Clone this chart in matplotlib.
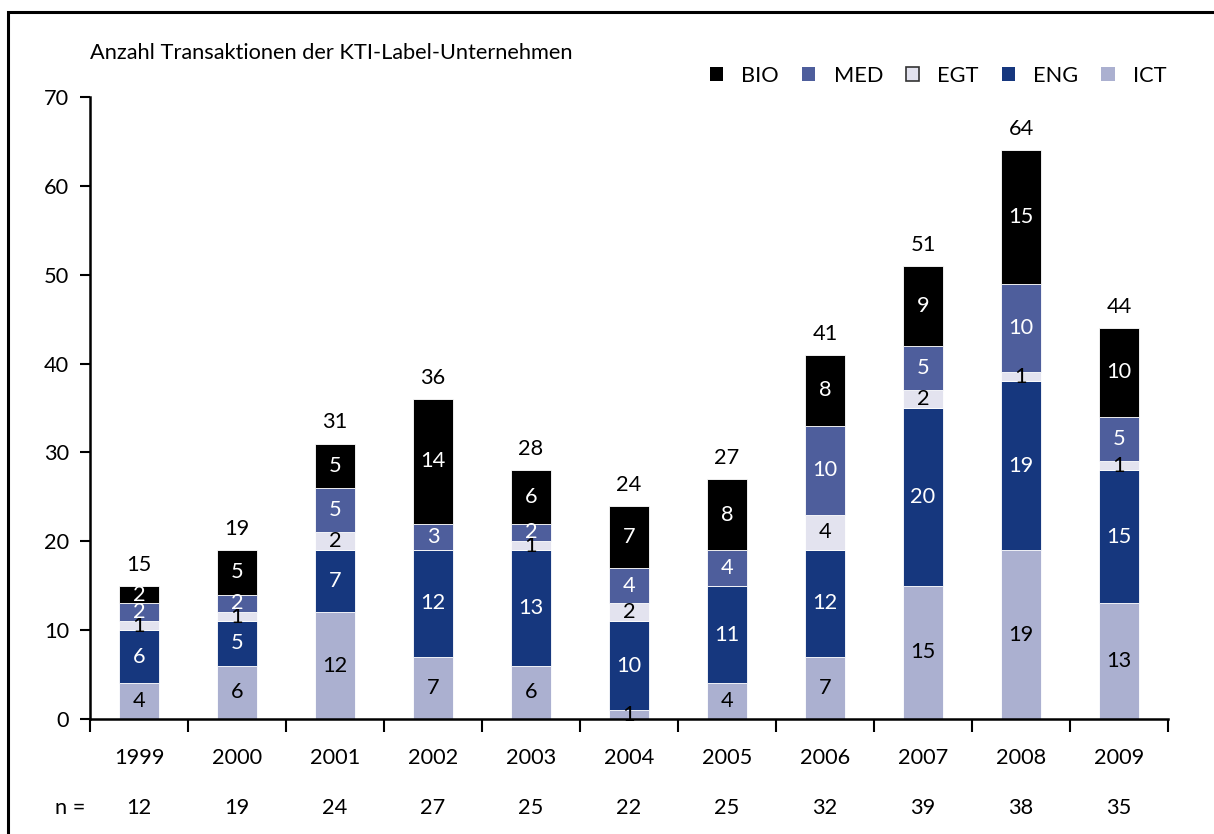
import matplotlib
matplotlib.use("Agg")
import matplotlib.pyplot as plt
from matplotlib.patches import Rectangle, Patch
import numpy as np

years = ["1999", "2000", "2001", "2002", "2003", "2004", "2005", "2006", "2007", "2008", "2009"]
n_values = [12, 19, 24, 27, 25, 22, 25, 32, 39, 38, 35]
ICT = [4, 6, 12, 7, 6, 1, 4, 7, 15, 19, 13]
ENG = [6, 5, 7, 12, 13, 10, 11, 12, 20, 19, 15]
EGT = [1, 1, 2, 0, 1, 2, 0, 4, 2, 1, 1]
MED = [2, 2, 5, 3, 2, 4, 4, 10, 5, 10, 5]
BIO = [2, 5, 5, 14, 6, 7, 8, 8, 9, 15, 10]
totals = [15, 19, 31, 36, 28, 24, 27, 41, 51, 64, 44]

series = [("ICT", ICT, "#ABB0D0", "black"),
          ("ENG", ENG, "#16377E", "white"),
          ("EGT", EGT, "#E3E3EF", "black"),
          ("MED", MED, "#4E5E9C", "white"),
          ("BIO", BIO, "#000000", "white")]

plt.rcParams['font.family'] = ['Lato', 'DejaVu Sans']
FS = 15.7

fig = plt.figure(figsize=(12.14, 8.34), dpi=100)
ax = fig.add_axes([90/1214, 1-719/834, (1168-90)/1214, (719-97)/834])

x = np.arange(len(years))
bottom = np.zeros(len(years))
handles = {}
for name, vals, col, tcol in series:
    vals = np.array(vals, dtype=float)
    ax.bar(x, vals, width=0.41, bottom=bottom, color=col, edgecolor="white", linewidth=0.6, zorder=2)
    for xi, v, b in zip(x, vals, bottom):
        if v > 0:
            ax.text(xi, b + v/2, f"{int(v)}", ha="center", va="center", color=tcol, fontsize=FS, zorder=3)
    bottom += vals
    handles[name] = Patch(facecolor=col, edgecolor=("#333333" if name == "EGT" else col),
                          linewidth=1.2 if name == "EGT" else 0)

for xi, t in zip(x, totals):
    ax.annotate(f"{t}", (xi, t), xytext=(0, 8), textcoords="offset points", ha="center", va="bottom", fontsize=FS)

ax.set_xlim(-0.5, len(years) - 0.5)
ax.set_ylim(0, 70)
ax.set_yticks(range(0, 71, 10))
ax.tick_params(axis='y', direction='out', length=7, width=1.5, labelsize=FS, pad=8)
ax.set_xticks(np.arange(-0.5, len(years), 1.0))
ax.set_xticklabels([])
ax.tick_params(axis='x', direction='out', length=9, width=1.5)
for s in ["top", "right"]:
    ax.spines[s].set_visible(False)
for s in ["left", "bottom"]:
    ax.spines[s].set_linewidth(1.8)

trans = ax.get_xaxis_transform()
for xi, yr, nv in zip(x, years, n_values):
    ax.text(xi, -39/622, yr, transform=trans, ha="center", va="center", fontsize=FS, clip_on=False)
    ax.text(xi, -89/622, f"{nv}", transform=trans, ha="center", va="center", fontsize=FS, clip_on=False)
fig.text(70/1214, 1-808/834, "n =", ha="center", va="center", fontsize=FS)

fig.text(90/1214, 1-53/834, "Anzahl Transaktionen der KTI-Label-Unternehmen", ha="left", va="center", fontsize=FS)

order = ["BIO", "MED", "EGT", "ENG", "ICT"]
fig.legend([handles[k] for k in order], order, loc="center right", bbox_to_anchor=(1182/1214, 1-76/834),
           ncol=5, frameon=False, fontsize=FS, handlelength=0.6, handleheight=0.6, handletextpad=0.85,
           columnspacing=1.05, borderpad=0.2)

fig.patches.append(Rectangle((8/1214, -0.1), 1.2, 1.1 - 12/834, transform=fig.transFigure,
                             fill=False, edgecolor="black", linewidth=2.2))

fig.savefig("out.png", dpi=100)
